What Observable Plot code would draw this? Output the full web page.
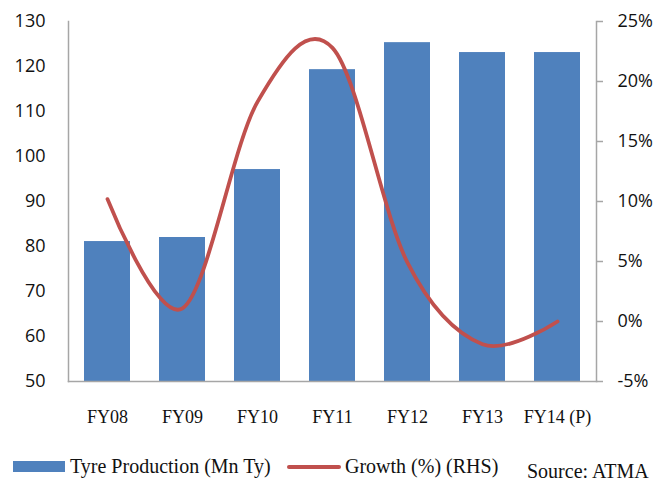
<!DOCTYPE html>
<html>
<head>
<meta charset="utf-8">
<script src="https://cdn.jsdelivr.net/npm/d3@7"></script>
<script src="https://cdn.jsdelivr.net/npm/@observablehq/plot@0.6"></script>
<style>
  html, body { margin: 0; padding: 0; background: #fff; }
  #wrap { position: relative; width: 668px; height: 482px; overflow: hidden; }
  .leg { position: absolute; font-family: "Liberation Serif", serif; font-size: 20px; line-height: 22px; color: #111; white-space: nowrap; }
  .sw { position: absolute; }
</style>
</head>
<body>
<div id="wrap">
  <div id="chart"></div>
  <div class="sw" style="left:13px;top:461px;width:52px;height:11px;background:#4F81BD"></div>
  <div class="leg" style="left:70px;top:455px">Tyre Production (Mn Ty)</div>
  <div class="sw" style="left:287px;top:465px;width:54px;height:3.5px;background:#C0504D;border-radius:2px"></div>
  <div class="leg" style="left:345px;top:455px">Growth (%) (RHS)</div>
  <div class="leg" style="left:527px;top:460px">Source: ATMA</div>
</div>
<script>
// Fiscal years
const years = ["FY08", "FY09", "FY10", "FY11", "FY12", "FY13", "FY14 (P)"];
// Tyre production, million tyres (left axis)
const production = [81.1, 82.0, 97.1, 119.3, 125.3, 123.1, 123.1];
// Year-on-year growth, % (right axis)
const growth = [10.2, 1.1, 18.3, 22.8, 4.9, -1.9, 0.0];

// Axis extents and ticks
const leftDomain = [50, 130];
const leftTicks = [50, 60, 70, 80, 90, 100, 110, 120, 130];
const rightDomain = [-5, 25];
const rightTicks = [-5, 0, 5, 10, 15, 20, 25];

// Map the growth scale onto the production scale (secondary axis)
const toLeft = d3.scaleLinear().domain(rightDomain).range(leftDomain);

const rows = years.map((year, i) => ({
  year,
  production: production[i],
  growth: growth[i],
  growthOnLeft: toLeft(growth[i])
}));

const axisGrey = "#a6a6a6";
const sans = "'Open Sans', 'Liberation Sans', sans-serif";
const serif = "'Liberation Serif', serif";

const chart = Plot.plot({
  width: 668,
  height: 440,
  marginLeft: 68,
  marginRight: 72,
  marginTop: 21,
  marginBottom: 59,
  style: { background: "#fff", color: "#111", overflow: "visible" },
  x: { domain: years, paddingInner: 0.39, paddingOuter: 0.195 },
  y: { domain: leftDomain },
  marks: [
    Plot.barY(rows, { x: "year", y1: leftDomain[0], y2: "production", fill: "#4F81BD" }),
    Plot.frame({ anchor: "left", stroke: axisGrey, strokeWidth: 1.5 }),
    Plot.frame({ anchor: "right", stroke: axisGrey, strokeWidth: 1.5 }),
    Plot.frame({ anchor: "bottom", stroke: axisGrey, strokeWidth: 1.5 }),
    Plot.line(rows, {
      x: "year", y: "growthOnLeft", curve: "cardinal",
      stroke: "#C0504D", strokeWidth: 3.8, strokeLinecap: "round", strokeLinejoin: "round"
    }),
    Plot.axisY({
      anchor: "left", ticks: leftTicks, tickSize: 0, tickPadding: 23, label: null,
      fontFamily: sans, fontSize: 18, fill: "#111"
    }),
    Plot.axisY({
      anchor: "right", ticks: rightTicks.map(toLeft), tickSize: 6, tickPadding: 15, label: null,
      tickFormat: (v) => `${Math.round(toLeft.invert(v))}%`,
      stroke: axisGrey, strokeWidth: 1.5, fill: "#111",
      fontFamily: sans, fontSize: 18
    }),
    Plot.axisX({
      tickSize: 0, tickPadding: 29, label: null,
      fontFamily: serif, fontSize: 18, fill: "#111"
    })
  ]
});

document.getElementById("chart").appendChild(chart);
</script>
</body>
</html>
